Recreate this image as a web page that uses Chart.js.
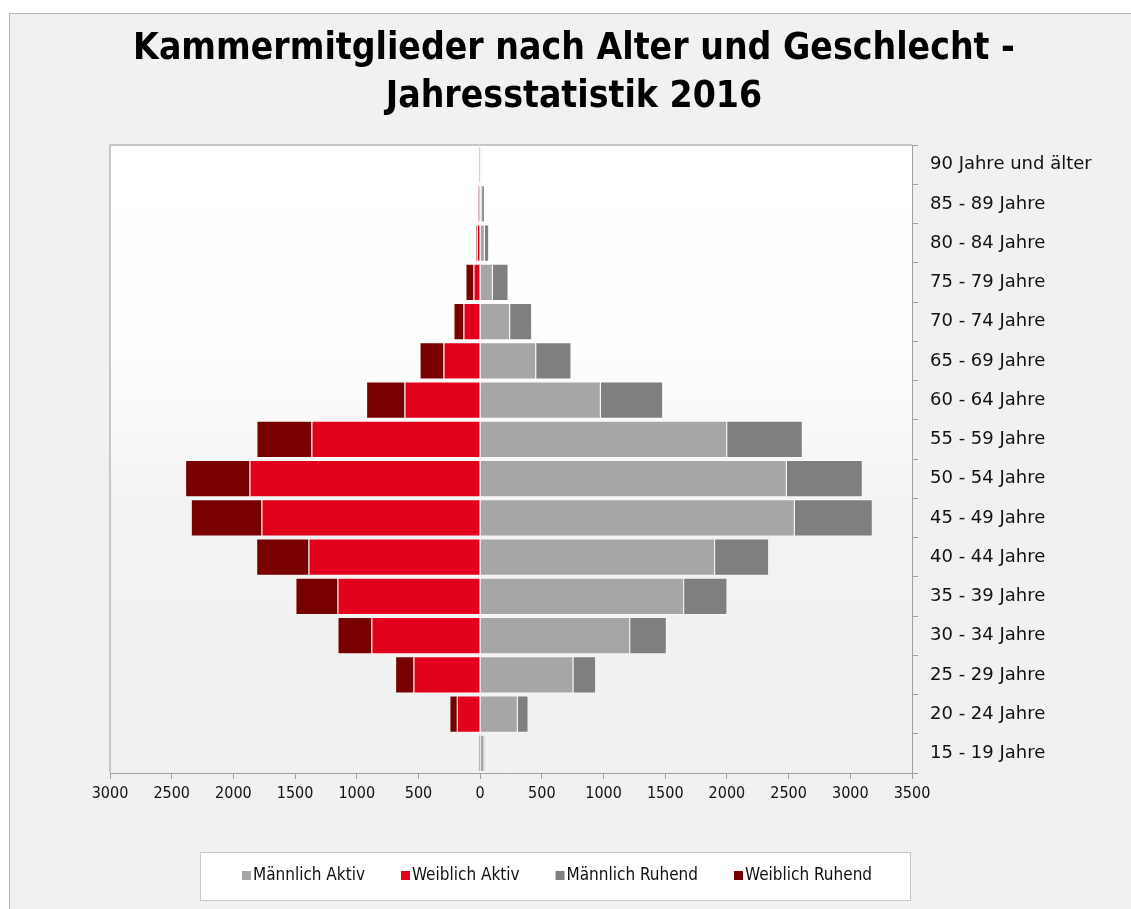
<!DOCTYPE html>
<html lang="de">
<head>
    <meta charset="UTF-8">
    <title>Kammermitglieder nach Alter und Geschlecht</title>
    <style>
        body {
            margin: 0;
            background-color: #ffffff;
            overflow: hidden;
        }
        .frame {
            position: absolute;
            left: 9px;
            top: 13px;
            width: 1200px;
            height: 1000px;
            background-color: #f1f1f1;
            border: 1px solid #b4b4b4;
        }
        #chartWrap {
            position: absolute;
            left: 0;
            top: 0;
            width: 1131px;
            height: 909px;
        }
    </style>
</head>
<body>
    <div class="frame"></div>
    <div id="chartWrap">
        <canvas id="pyramid" width="1131" height="909"></canvas>
    </div>
    <script src="https://cdn.jsdelivr.net/npm/chart.js@4.4.1/dist/chart.umd.min.js"></script>
    <script>
        // Altersgruppen, von oben nach unten
        var ageGroups = [
            '90 Jahre und älter', '85 - 89 Jahre', '80 - 84 Jahre', '75 - 79 Jahre',
            '70 - 74 Jahre', '65 - 69 Jahre', '60 - 64 Jahre', '55 - 59 Jahre',
            '50 - 54 Jahre', '45 - 49 Jahre', '40 - 44 Jahre', '35 - 39 Jahre',
            '30 - 34 Jahre', '25 - 29 Jahre', '20 - 24 Jahre', '15 - 19 Jahre'
        ];
        var maennlichAktiv  = [6, 16, 38, 103, 243, 454, 978, 2002, 2485, 2550, 1904, 1653, 1216, 756, 305, 35];
        var weiblichAktiv   = [4, 10, 27, 54, 135, 297, 613, 1367, 1869, 1772, 1391, 1156, 881, 540, 189, 12];
        var maennlichRuhend = [5, 22, 35, 127, 178, 286, 505, 613, 616, 632, 438, 351, 297, 184, 87, 5];
        var weiblichRuhend  = [5, 6, 8, 65, 81, 194, 311, 446, 522, 573, 424, 341, 275, 149, 60, 2];

        var titleLines = ['Kammermitglieder nach Alter und Geschlecht -', 'Jahresstatistik 2016'];

        var condensed = '"DejaVu Sans Condensed", "DejaVu Sans", sans-serif';
        var axisColor = '#a0a0a0';

        // Hintergrund der Zeichenfläche, Titel und Legende
        var decoPlugin = {
            id: 'deco',
            beforeDraw: function(chart) {
                var ctx = chart.ctx;
                var a = chart.chartArea;
                ctx.save();
                var grad = ctx.createLinearGradient(0, a.top, 0, a.bottom);
                grad.addColorStop(0, '#ffffff');
                grad.addColorStop(0.33, '#fdfdfd');
                grad.addColorStop(0.6, '#f2f2f2');
                grad.addColorStop(1, '#f1f1f1');
                ctx.fillStyle = grad;
                ctx.fillRect(a.left, a.top, a.right - a.left, a.bottom - a.top);
                ctx.strokeStyle = '#b8b8b8';
                ctx.lineWidth = 1.5;
                ctx.beginPath();
                ctx.moveTo(a.left, a.bottom);
                ctx.lineTo(a.left, a.top);
                ctx.lineTo(a.right, a.top);
                ctx.stroke();
                ctx.restore();
            },
            afterDraw: function(chart) {
                var ctx = chart.ctx;
                ctx.save();
                // Titel
                ctx.fillStyle = '#000000';
                ctx.font = 'bold 37px ' + condensed;
                ctx.textAlign = 'center';
                ctx.textBaseline = 'middle';
                ctx.fillText(titleLines[0], 574, 49);
                ctx.fillText(titleLines[1], 574, 97);

                // Legende
                ctx.fillStyle = '#ffffff';
                ctx.fillRect(200.5, 852.5, 710, 48);
                ctx.strokeStyle = '#c8c8c8';
                ctx.lineWidth = 1;
                ctx.strokeRect(200.5, 852.5, 710, 48);

                ctx.font = '17px ' + condensed;
                ctx.textAlign = 'left';
                var sets = chart.data.datasets;
                var gap = 36, box = 9;
                var total = 0;
                sets.forEach(function(ds) {
                    total += box + 2 + ctx.measureText(ds.label).width;
                });
                total += gap * (sets.length - 1);
                var x = 557 - total / 2;
                var y = 876;
                sets.forEach(function(ds) {
                    ctx.fillStyle = ds.backgroundColor;
                    ctx.fillRect(x, y - 5, box, box);
                    ctx.fillStyle = '#111111';
                    ctx.fillText(ds.label, x + box + 2, y);
                    x += box + 2 + ctx.measureText(ds.label).width + gap;
                });
                ctx.restore();
            }
        };

        var negate = function(arr) {
            return arr.map(function(v) { return -v; });
        };

        var ctx = document.getElementById('pyramid').getContext('2d');
        var pyramid = new Chart(ctx, {
            type: 'bar',
            data: {
                labels: ageGroups,
                datasets: [
                    { label: 'Männlich Aktiv', data: maennlichAktiv, backgroundColor: '#a6a6a6' },
                    { label: 'Weiblich Aktiv', data: negate(weiblichAktiv), backgroundColor: '#e2001a' },
                    { label: 'Männlich Ruhend', data: maennlichRuhend, backgroundColor: '#7f7f7f' },
                    { label: 'Weiblich Ruhend', data: negate(weiblichRuhend), backgroundColor: '#780000' }
                ]
            },
            options: {
                indexAxis: 'y',
                responsive: false,
                animation: false,
                layout: {
                    padding: { left: 110, top: 145, right: 0, bottom: 0 }
                },
                datasets: {
                    bar: {
                        barPercentage: 0.95,
                        categoryPercentage: 1,
                        borderWidth: 1,
                        borderColor: 'rgba(255,255,255,0.55)'
                    }
                },
                scales: {
                    x: {
                        type: 'linear',
                        stacked: true,
                        min: -3000,
                        max: 3500,
                        afterFit: function(scale) { scale.height = 136; },
                        ticks: {
                            stepSize: 500,
                            padding: 5,
                            color: '#111111',
                            font: { family: condensed, size: 16 },
                            callback: function(value) { return Math.abs(value); }
                        },
                        grid: {
                            drawOnChartArea: false,
                            tickLength: 6,
                            color: axisColor
                        },
                        border: { color: axisColor }
                    },
                    y: {
                        position: 'right',
                        stacked: true,
                        afterFit: function(scale) { scale.width = 219; },
                        ticks: {
                            padding: 12,
                            color: '#111111',
                            font: { family: '"DejaVu Sans", sans-serif', size: 18 }
                        },
                        grid: {
                            drawOnChartArea: false,
                            tickLength: 6,
                            color: axisColor
                        },
                        border: { color: axisColor }
                    }
                },
                plugins: {
                    legend: { display: false },
                    title: { display: false },
                    tooltip: { enabled: false }
                }
            },
            plugins: [decoPlugin]
        });
    </script>
</body>
</html>
